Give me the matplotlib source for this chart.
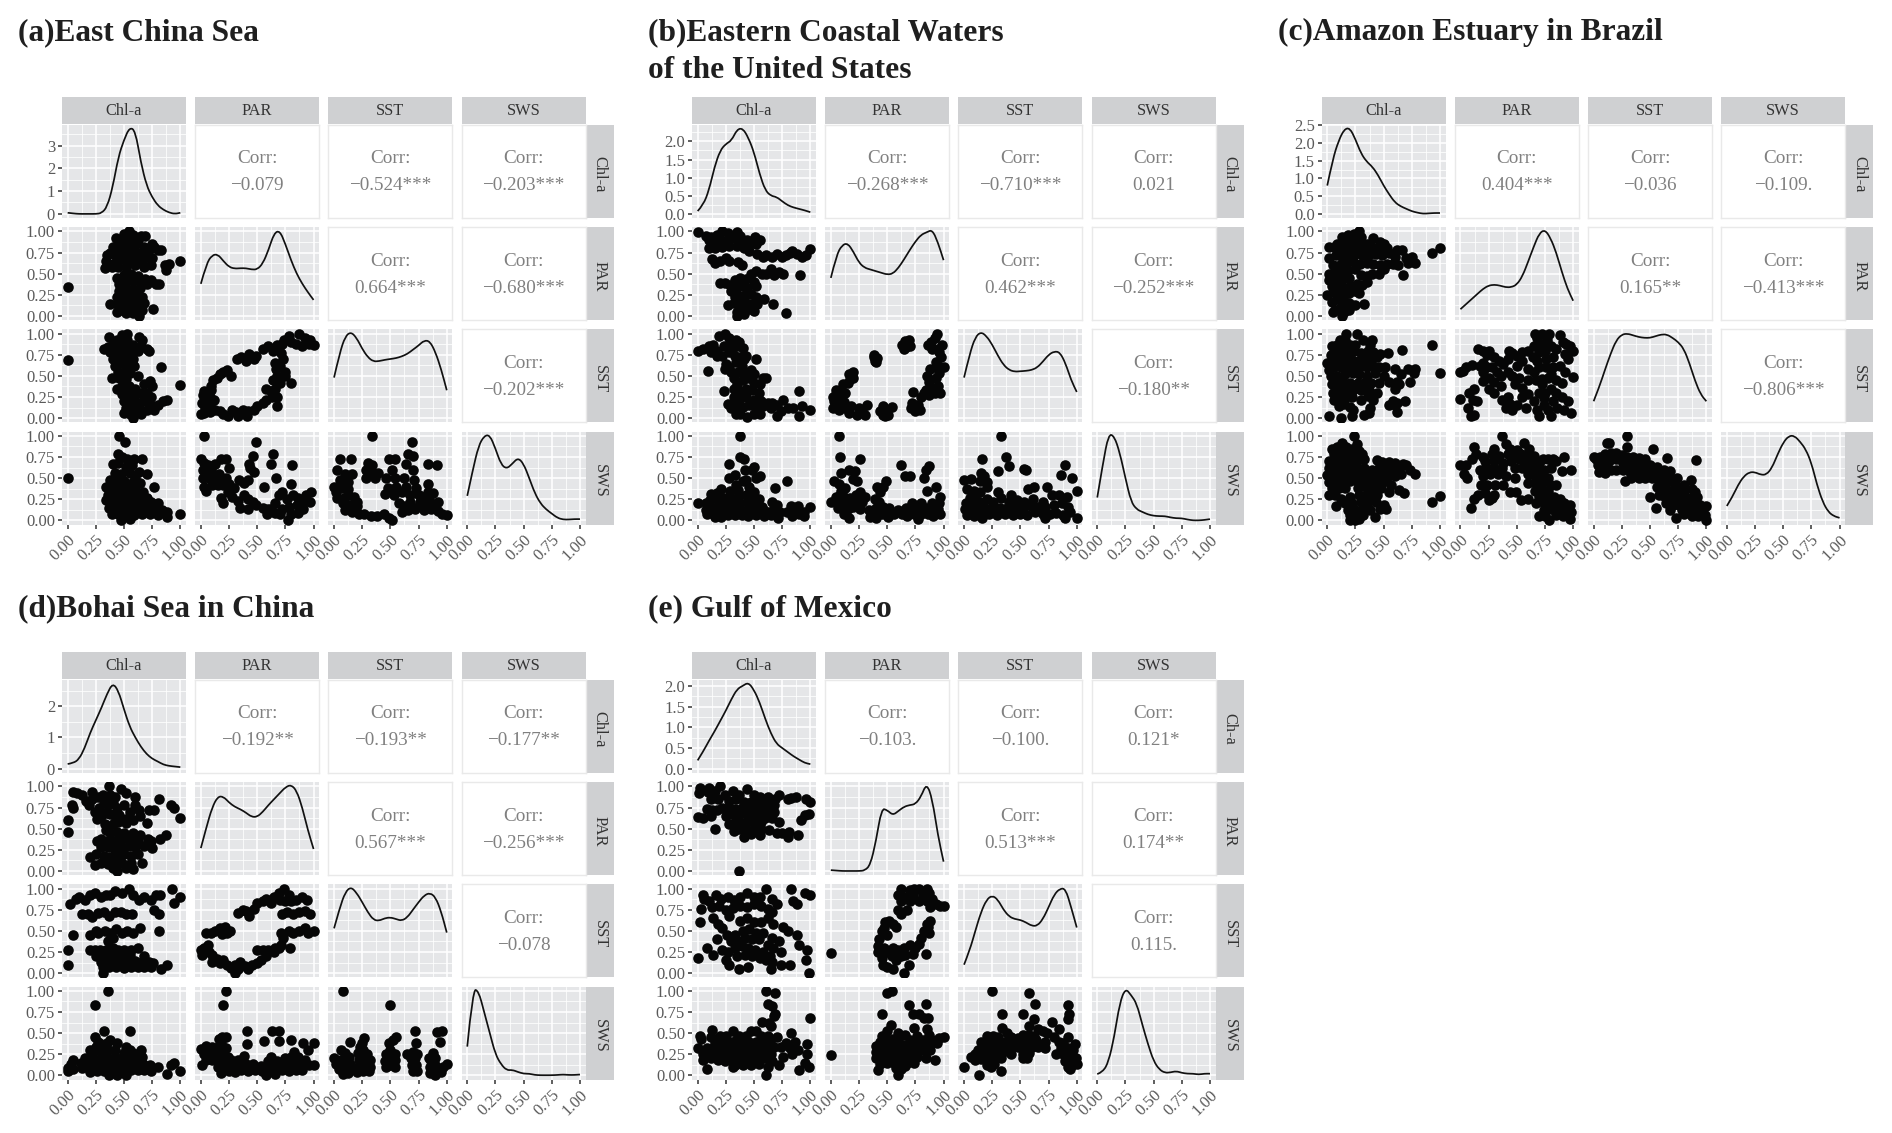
import numpy as np
import matplotlib
matplotlib.use('Agg')
import matplotlib.pyplot as plt
from matplotlib.path import Path
from matplotlib.patches import PathPatch
from matplotlib.transforms import ScaledTranslation

plt.rcParams['font.family'] = ['Liberation Serif', 'DejaVu Serif']

W, H = 1892, 1133
names = ['Chl-a', 'PAR', 'SST', 'SWS']
grid_x = [0, .05, .1, .15, .2, .25, .3, .35, .4, .45, .5, .55, .6, .65, .7, .75, .8, .85, .9, .95, 1]
unit_ticks = [0, .25, .5, .75, 1]
unit_labels = ['0.00', '0.25', '0.50', '0.75', '1.00']

# density curves, read at grid_x
a_dens = [[.05,.02,0,0,0,0,.03,.3,1.18,2.5,3.25,3.8,3.65,2.25,1.25,.73,.37,.18,.06,0,.05],
          [.38,.62,.72,.73,.65,.58,.56,.565,.565,.55,.55,.62,.78,.98,1.01,.85,.66,.5,.38,.28,.19],
          [.48,.77,.97,1.02,.95,.82,.72,.67,.675,.69,.7,.71,.73,.76,.81,.86,.92,.91,.78,.58,.33],
          [.29,.6,.88,1,1.01,.85,.66,.61,.67,.74,.67,.5,.32,.2,.13,.08,.03,.01,.01,.015,.015]]
b_dens = [[.08,.25,.65,1.3,1.75,1.93,2.02,2.33,2.36,2.1,1.7,1.1,.65,.5,.47,.35,.24,.18,.14,.1,.05],
          [.45,.72,.84,.86,.76,.63,.57,.55,.53,.51,.49,.5,.57,.67,.78,.88,.96,.99,1.02,.87,.66],
          [.48,.76,.96,1.02,.97,.87,.74,.63,.57,.55,.555,.56,.57,.6,.67,.75,.79,.78,.65,.45,.31],
          [.27,.67,1.02,1,.8,.5,.22,.13,.1,.07,.055,.05,.05,.035,.025,.025,.01,0,0,.005,.015]]
c_dens = [[.8,1.55,2.05,2.38,2.42,2.1,1.7,1.47,1.33,1.1,.8,.55,.33,.22,.15,.08,.04,.01,.02,.03,.03],
          [.08,.14,.2,.26,.32,.36,.37,.36,.34,.34,.37,.47,.64,.82,.98,1.02,.92,.75,.52,.32,.18],
          [.2,.37,.57,.76,.92,.99,1,.98,.96,.95,.95,.97,.99,.99,.95,.9,.82,.65,.44,.28,.2],
          [.17,.28,.42,.52,.57,.57,.54,.54,.62,.78,.92,1,1,.93,.84,.68,.42,.22,.1,.05,.03]]
d_dens = [[.15,.18,.3,.65,1.15,1.55,1.95,2.4,2.74,2.5,1.9,1.35,1,.7,.47,.32,.23,.13,.09,.07,.05],
          [.27,.52,.75,.88,.88,.81,.76,.73,.69,.64,.64,.7,.78,.85,.92,.99,1.02,.95,.75,.48,.26],
          [.53,.77,.96,1.02,.95,.84,.72,.63,.62,.65,.66,.64,.62,.66,.75,.84,.92,.95,.9,.73,.48],
          [.34,1.02,1,.75,.5,.25,.13,.06,.065,.04,.02,.02,.005,.002,.002,.002,.005,.01,.005,.005,.01]]
e_dens = [[.2,.42,.67,.9,1.15,1.4,1.68,1.92,2.0,2.08,1.9,1.6,1.2,.85,.6,.5,.4,.3,.22,.14,.11],
          [.01,.005,0,0,0,0,.005,.07,.35,.74,.72,.66,.71,.76,.78,.79,.88,1.04,.85,.42,.11],
          [.1,.27,.5,.72,.87,.92,.87,.75,.67,.64,.63,.6,.56,.56,.64,.78,.93,1,1,.78,.54],
          [.015,.04,.16,.45,.86,1.03,.95,.85,.6,.37,.17,.07,.03,.035,.05,.03,.02,.02,.01,.02,.02]]

# correlation labels, upper triangle
a_corr = ['\u22120.079', '\u22120.524***', '\u22120.203***', '0.664***', '\u22120.680***', '\u22120.202***']
b_corr = ['\u22120.268***', '\u22120.710***', '0.021', '0.462***', '\u22120.252***', '\u22120.180**']
c_corr = ['0.404***', '\u22120.036', '\u22120.109.', '0.165**', '\u22120.413***', '\u22120.806***']
d_corr = ['\u22120.192**', '\u22120.193**', '\u22120.177**', '0.567***', '\u22120.256***', '\u22120.078']
e_corr = ['\u22120.103.', '\u22120.100.', '0.121*', '0.513***', '0.174**', '0.115.']

# scatter points (x, y), lower triangle
a1 = [(0,.34),(1,.65),(.54,1),(.5,.97),(.58,.96),(.65,.95),(.69,.95),(.43,.92),(.48,.9),(.55,.9),(.62,.9),(.75,.85),(.77,.82),(.8,.78),(.83,.78),(.4,.82),(.45,.82),(.52,.82),(.6,.84),(.68,.82),(.72,.78),(.35,.72),(.38,.75),(.42,.72),(.47,.75),(.52,.74),(.58,.76),(.64,.75),(.7,.7),(.75,.68),(.34,.65),(.37,.62),(.42,.63),(.48,.67),(.55,.66),(.6,.68),(.66,.65),(.74,.6),(.9,.62),(.86,.6),(.87,.54),(.33,.57),(.39,.58),(.45,.58),(.52,.58),(.6,.6),(.68,.58),(.44,.45),(.5,.48),(.56,.5),(.62,.47),(.69,.44),(.74,.42),(.78,.38),(.81,.38),(.46,.38),(.52,.4),(.58,.42),(.64,.4),(.7,.38),(.46,.3),(.52,.33),(.58,.32),(.64,.33),(.44,.22),(.5,.25),(.56,.24),(.62,.25),(.66,.22),(.38,.14),(.44,.14),(.5,.17),(.56,.15),(.62,.17),(.68,.15),(.76,.08),(.44,.05),(.48,.07),(.54,.08),(.6,.09),(.66,.07),(.63,0),(.58,.03),(.52,.03)]
a2 = [(0,.69),(1,.39),(.37,.96),(.48,.98),(.53,1),(.44,.93),(.53,.93),(.63,.96),(.66,.92),(.32,.82),(.36,.84),(.4,.88),(.47,.86),(.52,.87),(.58,.86),(.65,.85),(.7,.82),(.72,.79),(.38,.78),(.43,.8),(.5,.8),(.56,.78),(.62,.79),(.4,.7),(.45,.72),(.52,.72),(.58,.7),(.42,.62),(.47,.65),(.53,.64),(.59,.62),(.83,.6),(.39,.48),(.45,.55),(.5,.55),(.55,.53),(.62,.5),(.46,.47),(.52,.46),(.68,.4),(.73,.44),(.75,.38),(.44,.34),(.48,.38),(.54,.38),(.6,.35),(.48,.28),(.53,.3),(.59,.27),(.65,.3),(.7,.3),(.74,.25),(.5,.2),(.55,.22),(.6,.2),(.67,.2),(.73,.17),(.8,.15),(.85,.2),(.88,.22),(.52,.12),(.57,.14),(.63,.12),(.7,.1),(.77,.1),(.5,.06),(.55,.05),(.6,.07),(.65,.05),(.58,0)]
a3 = [(0,.05),(.02,.27),(.03,.32),(.06,.3),(.09,.33),(.01,.18),(.05,.2),(.08,.25),(.04,.12),(.08,.14),(.03,.06),(.08,.07),(.13,.1),(.17,.08),(.2,.05),(.24,.03),(.28,.1),(.31,.07),(.33,.03),(.37,.1),(.41,.03),(.42,.08),(.47,.1),(.5,.14),(.55,.18),(.58,.22),(.63,.25),(.68,.25),(.62,.32),(.66,.35),(.7,.42),(.75,.5),(.8,.42),(.68,.14),(.58,.35),(.64,.45),(.68,.5),(.67,.58),(.7,.62),(.75,.55),(.66,.65),(.73,.7),(.71,.77),(.12,.22),(.09,.38),(.11,.45),(.14,.48),(.17,.52),(.2,.55),(.23,.57),(.27,.5),(.32,.7),(.36,.72),(.4,.68),(.43,.76),(.47,.7),(.49,.73),(.55,.82),(.6,.85),(.64,.8),(.68,.87),(.72,.88),(.74,.93),(.78,.97),(.8,.9),(.84,.88),(.87,1),(.92,.95),(.9,.85),(.96,.88),(1,.86),(.97,.92)]
a4 = [(0,.5),(1,.08),(.46,1),(.51,.93),(.45,.78),(.48,.75),(.53,.72),(.59,.72),(.66,.72),(.4,.67),(.45,.68),(.52,.63),(.57,.65),(.63,.57),(.7,.55),(.42,.56),(.47,.55),(.55,.56),(.6,.5),(.38,.48),(.44,.48),(.5,.46),(.57,.44),(.64,.44),(.34,.39),(.4,.4),(.46,.38),(.53,.38),(.6,.36),(.67,.33),(.77,.39),(.36,.3),(.42,.31),(.49,.3),(.56,.3),(.63,.28),(.7,.26),(.34,.24),(.39,.22),(.45,.22),(.52,.22),(.59,.22),(.66,.2),(.74,.22),(.8,.2),(.37,.15),(.42,.14),(.49,.14),(.56,.14),(.63,.13),(.7,.13),(.78,.14),(.84,.12),(.88,.1),(.39,.08),(.45,.07),(.52,.07),(.59,.06),(.66,.07),(.73,.07),(.8,.06),(.88,.04),(.47,.01),(.55,.02)]
a5 = [(.03,1),(.49,.93),(0,.72),(.03,.68),(.06,.65),(.1,.64),(.13,.67),(.18,.72),(.22,.73),(.02,.6),(.06,.58),(.11,.55),(.16,.55),(.25,.62),(.02,.5),(.07,.5),(.12,.48),(.17,.48),(.22,.5),(.03,.4),(.05,.35),(.1,.42),(.15,.42),(.2,.42),(.25,.43),(.18,.27),(.2,.2),(.24,.33),(.29,.38),(.34,.48),(.38,.44),(.42,.48),(.44,.62),(.46,.76),(.43,.67),(.64,.78),(.62,.67),(.81,.66),(.47,.57),(.67,.5),(.56,.39),(.8,.43),(.28,.28),(.33,.23),(.38,.3),(.42,.25),(.46,.22),(.35,.15),(.42,.14),(.49,.18),(.55,.15),(.59,.08),(.62,.14),(.66,.2),(.69,.3),(.72,.34),(.76,.25),(.82,.3),(.86,.27),(.93,.3),(.98,.33),(.97,.22),(.9,.2),(.85,.18),(.78,.16),(.72,.14),(.66,.09),(.6,.13),(.7,.07),(.77,0),(.8,.07),(.86,.09),(.91,.13)]
a6 = [(.34,1),(.69,.93),(.05,.72),(.15,.72),(.3,.68),(.34,.65),(.66,.78),(.7,.76),(.83,.67),(.91,.66),(.49,.72),(.54,.73),(.03,.6),(.1,.55),(.16,.55),(.28,.6),(.33,.58),(.39,.56),(.51,.6),(.64,.67),(.7,.6),(.0,.4),(.05,.48),(.12,.45),(.28,.5),(.36,.5),(.46,.5),(.54,.5),(.62,.5),(.71,.48),(.02,.33),(.07,.38),(.12,.37),(.48,.38),(.55,.4),(.64,.4),(.73,.38),(.83,.43),(.03,.27),(.09,.27),(.2,.22),(.45,.31),(.53,.3),(.67,.3),(.75,.3),(.83,.33),(.88,.32),(.08,.2),(.13,.18),(.2,.17),(.67,.22),(.76,.22),(.84,.25),(.92,.22),(.1,.12),(.16,.1),(.27,.07),(.33,.05),(.38,.05),(.44,.08),(.49,.03),(.51,.01),(.6,.1),(.66,.12),(.72,.13),(.8,.12),(.86,.13),(.92,.11),(.96,.08),(1,.06),(.22,.08),(.12,.3),(.18,.28),(.58,.2),(.62,.17),(.75,.17),(.82,.2),(.88,.17),(.6,.34),(.8,.28)]

b1 = [(0,.99),(.07,.95),(.12,.93),(.17,.96),(.22,1),(.27,.98),(.35,.99),(.38,.95),(.44,.9),(.51,.93),(.55,.9),(.1,.9),(.16,.88),(.21,.9),(.27,.9),(.33,.92),(.4,.88),(.47,.86),(.52,.85),(.1,.8),(.15,.8),(.22,.82),(.28,.83),(.35,.83),(.41,.8),(.46,.77),(.53,.73),(.58,.7),(.61,.72),(.66,.7),(.7,.73),(.75,.7),(.78,.72),(.82,.75),(.84,.77),(.88,.73),(.93,.7),(.96,.72),(1,.79),(.13,.67),(.15,.63),(.2,.65),(.25,.68),(.28,.65),(.36,.64),(.39,.6),(.65,.55),(.68,.48),(.72,.52),(.76,.5),(.91,.48),(.47,.5),(.52,.53),(.57,.5),(.61,.5),(.2,.39),(.24,.39),(.29,.37),(.33,.42),(.38,.45),(.43,.44),(.5,.4),(.52,.36),(.3,.3),(.34,.32),(.39,.35),(.44,.33),(.33,.22),(.37,.24),(.42,.25),(.47,.26),(.52,.22),(.59,.2),(.27,.13),(.32,.15),(.37,.14),(.42,.17),(.47,.14),(.53,.14),(.67,.14),(.78,.04),(.35,.05),(.4,.07),(.46,.08),(.35,0),(.41,.02),(.5,.06)]
b2 = [(.0,.8),(.05,.82),(.1,.85),(.14,.87),(.19,.97),(.24,1),(.28,.95),(.34,.93),(.37,.9),(.12,.78),(.17,.8),(.23,.85),(.28,.87),(.32,.84),(.37,.85),(.4,.83),(.17,.74),(.22,.73),(.28,.78),(.33,.74),(.38,.72),(.43,.73),(.25,.64),(.28,.6),(.34,.66),(.39,.62),(.41,.7),(.52,.7),(.09,.56),(.24,.58),(.3,.55),(.36,.55),(.42,.54),(.47,.57),(.5,.52),(.58,.48),(.61,.47),(.23,.32),(.32,.48),(.35,.4),(.4,.45),(.46,.47),(.5,.42),(.55,.4),(.32,.35),(.37,.32),(.43,.35),(.48,.33),(.54,.3),(.27,.17),(.32,.25),(.37,.22),(.43,.25),(.5,.22),(.56,.2),(.62,.18),(.66,.18),(.7,.15),(.3,.12),(.34,.15),(.4,.13),(.46,.15),(.52,.12),(.58,.14),(.65,.12),(.7,.03),(.74,.08),(.76,.22),(.8,.12),(.85,.12),(.9,.32),(.9,.02),(.93,.14),(1,.1),(.34,.05),(.38,.05),(.44,.01),(.5,.05),(.55,.05)]
b3 = [(.02,.12),(.03,.2),(.05,.28),(.02,.25),(.08,.17),(.12,.19),(.07,.1),(.13,.12),(.18,.14),(.16,.06),(.23,.04),(.25,.12),(.28,.08),(.3,.04),(.32,.15),(.38,.72),(.39,.68),(.4,.66),(.38,.75),(.41,.71),(.46,.14),(.47,.08),(.5,.1),(.51,.04),(.48,.02),(.44,.08),(.54,.13),(.46,.04),(.63,.86),(.65,.82),(.66,.91),(.69,.93),(.7,.85),(.67,.84),(.72,.18),(.74,.15),(.71,.12),(.77,.15),(.79,.1),(.75,.08),(.73,.31),(.8,.25),(.83,.3),(.87,.27),(.92,.3),(.84,.33),(.9,.36),(.95,.38),(.97,.3),(.87,.43),(.93,.47),(.85,.5),(.88,.58),(.94,.6),(.97,.6),(1,.6),(.96,.53),(.93,.67),(.98,.72),(.96,.78),(.9,.82),(.86,.87),(.89,.9),(.92,.95),(.94,1),(.99,.87),(.95,.82),(.2,.55),(.16,.52),(.17,.46),(.2,.48),(.15,.42),(.11,.4),(.08,.33),(.05,.33),(.13,.3),(.09,.26)]
b4 = [(0,.2),(.38,1),(.38,.75),(.41,.73),(.28,.67),(.33,.54),(.28,.5),(.42,.6),(.48,.6),(.5,.63),(.52,.5),(.55,.52),(.69,.38),(.79,.46),(.34,.42),(.4,.46),(.43,.48),(.46,.4),(.12,.31),(.17,.32),(.21,.37),(.29,.35),(.36,.36),(.5,.33),(.07,.2),(.11,.24),(.17,.25),(.23,.27),(.3,.27),(.36,.28),(.43,.3),(.5,.26),(.54,.25),(.07,.12),(.12,.15),(.18,.17),(.24,.2),(.3,.2),(.37,.2),(.44,.22),(.5,.19),(.57,.16),(.66,.22),(.7,.18),(.08,.07),(.13,.09),(.2,.11),(.26,.13),(.32,.13),(.38,.14),(.45,.14),(.52,.12),(.6,.11),(.67,.12),(.73,.1),(.79,.1),(.83,.17),(.87,.13),(.89,.17),(.94,.1),(1,.16),(.15,.04),(.21,.04),(.27,.06),(.33,.06),(.39,.06),(.45,.05),(.52,.06),(.59,.05),(.65,.06),(.71,.03),(.84,.05),(.9,.07),(.94,.05)]
b5 = [(.07,1),(.08,.75),(.26,.73),(.62,.66),(.66,.53),(.7,.53),(.87,.64),(.84,.6),(.09,.56),(.16,.6),(.21,.58),(.2,.49),(.23,.47),(.03,.46),(.07,.43),(.41,.4),(.46,.4),(.49,.46),(.83,.5),(.09,.35),(.13,.38),(.85,.35),(.93,.39),(.39,.25),(.44,.33),(.05,.28),(.08,.3),(.12,.28),(.17,.27),(.22,.3),(.26,.33),(.3,.28),(.97,.28),(.0,.22),(.04,.22),(.08,.22),(.12,.22),(.17,.2),(.22,.2),(.28,.22),(.43,.22),(.72,.2),(.8,.2),(.9,.2),(.96,.2),(.06,.15),(.1,.15),(.15,.14),(.2,.16),(.26,.13),(.34,.12),(.4,.15),(.46,.16),(.52,.15),(.6,.12),(.67,.15),(.73,.14),(.78,.15),(.84,.15),(.89,.14),(.95,.14),(.12,.08),(.16,.03),(.35,.04),(.39,.08),(.45,.08),(.51,.04),(.56,.08),(.63,.07),(.68,.05),(.74,.08),(.8,.08),(.86,.08),(.91,.05),(.97,.07),(.4,.03),(.77,.02)]
b6 = [(.33,1),(.37,.75),(.16,.73),(.4,.64),(.53,.61),(.55,.6),(.3,.58),(.15,.56),(.18,.53),(.9,.66),(.86,.54),(.96,.5),(.0,.48),(.06,.49),(.2,.45),(.2,.4),(.14,.46),(.62,.39),(.74,.39),(.57,.37),(.3,.34),(1,.35),(.03,.37),(.09,.35),(.14,.33),(.1,.27),(.42,.3),(.05,.27),(.02,.2),(.07,.2),(.14,.22),(.2,.25),(.26,.22),(.33,.26),(.4,.22),(.47,.24),(.53,.22),(.61,.25),(.7,.22),(.78,.3),(.84,.3),(.91,.28),(.01,.13),(.06,.13),(.12,.13),(.18,.16),(.25,.15),(.32,.15),(.38,.15),(.45,.16),(.52,.15),(.59,.17),(.66,.16),(.72,.16),(.8,.18),(.87,.2),(.92,.16),(.03,.06),(.09,.05),(.15,.06),(.22,.07),(.29,.06),(.36,.08),(.43,.06),(.5,.08),(.56,.06),(.63,.1),(.7,.07),(.76,.08),(.82,.09),(.88,.06),(.94,.1),(.9,.03),(1,.03),(.16,.03),(.72,.03)]

c1 = [(1,.8),(.93,.75),(.28,1),(.24,.97),(.18,.96),(.13,.93),(.2,.93),(.3,.93),(.09,.85),(.15,.85),(.22,.87),(.28,.88),(.35,.85),(.41,.92),(.47,.88),(.5,.85),(.02,.82),(.06,.81),(.11,.78),(.16,.78),(.22,.8),(.28,.8),(.34,.78),(.4,.82),(.46,.8),(.53,.8),(.02,.68),(.08,.72),(.13,.7),(.19,.72),(.25,.73),(.31,.72),(.37,.72),(.43,.73),(.49,.72),(.55,.74),(.6,.7),(.62,.78),(.66,.78),(.7,.68),(.75,.7),(.78,.63),(.72,.63),(.05,.6),(.11,.6),(.17,.62),(.23,.65),(.29,.62),(.35,.63),(.41,.62),(.47,.6),(.53,.62),(.58,.62),(.63,.6),(.02,.5),(.07,.53),(.13,.52),(.18,.54),(.25,.55),(.3,.48),(.35,.47),(.4,.5),(.46,.5),(.5,.55),(.67,.49),(.02,.42),(.08,.45),(.13,.42),(.19,.45),(.26,.38),(.31,.37),(.35,.4),(.04,.36),(.09,.35),(.14,.33),(.2,.36),(.25,.3),(.28,.27),(0,.25),(.05,.28),(.1,.28),(.15,.25),(.19,.27),(.04,.17),(.09,.2),(.14,.18),(.19,.15),(.25,.13),(.33,.14),(.07,.07),(.05,.05),(.12,.11),(.19,.07),(.13,0),(.15,.05)]
c2 = [(.93,.87),(1,.54),(.17,1),(.26,1),(.11,.93),(.16,.92),(.32,.92),(.4,.92),(.04,.85),(.09,.87),(.14,.85),(.2,.87),(.25,.87),(.38,.87),(.03,.75),(.08,.78),(.13,.78),(.19,.78),(.24,.79),(.3,.77),(.36,.8),(.41,.78),(.47,.76),(.54,.77),(.66,.81),(0,.65),(.05,.68),(.1,.7),(.15,.7),(.21,.7),(.27,.68),(.32,.7),(.38,.7),(.44,.72),(.02,.57),(.06,.6),(.12,.6),(.18,.62),(.24,.62),(.3,.62),(.35,.6),(.41,.62),(.46,.6),(.51,.6),(.6,.58),(.65,.52),(.72,.58),(.78,.58),(.77,.53),(.03,.5),(.09,.5),(.16,.52),(.23,.53),(.28,.52),(.35,.5),(.42,.53),(.5,.5),(.04,.41),(.09,.42),(.14,.43),(.2,.42),(.27,.42),(.33,.42),(.39,.42),(.46,.42),(.55,.43),(.62,.43),(.73,.43),(.05,.3),(.1,.34),(.17,.33),(.23,.33),(.3,.33),(.37,.33),(.44,.3),(.6,.35),(.64,.4),(.06,.22),(.11,.25),(.17,.25),(.22,.25),(.3,.22),(.36,.26),(.41,.22),(.55,.15),(.6,.15),(.62,.18),(.58,.2),(.69,.2),(.1,.14),(.15,.17),(.2,.13),(.23,.1),(.33,.04),(.38,.12),(.37,.06),(.62,.07),(.02,.02),(.12,0),(.22,.02)]
c3 = [(0,.55),(.02,.56),(.05,.6),(.1,.63),(.17,.62),(.16,.82),(.2,.8),(.24,.75),(.25,.8),(.3,.72),(.34,.68),(.43,.8),(.46,.77),(.5,.74),(.55,.78),(.6,.8),(.65,.85),(.68,.95),(.66,1),(.72,1),(.79,1),(.77,.92),(.72,.88),(.88,.98),(.91,.9),(.94,.88),(.97,.85),(1,.79),(.93,.76),(.85,.82),(.8,.85),(.75,.8),(.7,.78),(.64,.72),(.55,.68),(.5,.62),(.42,.7),(.38,.64),(.2,.65),(.24,.6),(.28,.6),(.32,.55),(.2,.55),(.2,.44),(.25,.48),(.3,.43),(.36,.5),(.42,.55),(.46,.5),(.52,.48),(.6,.58),(.65,.55),(.7,.6),(.76,.6),(.82,.6),(.88,.62),(.95,.7),(1,.49),(.93,.55),(.85,.45),(.9,.42),(.78,.48),(.72,.46),(.67,.45),(.6,.45),(.55,.36),(.48,.4),(.36,.38),(.3,.3),(.25,.35),(.12,.35),(.08,.3),(0,.23),(.11,.22),(.15,.2),(.07,.12),(.09,.02),(.12,.04),(.37,.22),(.42,.25),(.44,.17),(.4,.12),(.46,.1),(.5,.15),(.55,.25),(.6,.28),(.58,.12),(.65,.2),(.7,.3),(.75,.3),(.8,.35),(.85,.3),(.9,.25),(.95,.2),(.98,.06),(.82,.2),(.74,.15),(.68,.1),(.7,.02),(.8,.03),(.86,.12),(.78,.1),(.92,.1),(.72,.4),(.8,.52),(.68,.68),(.76,.7),(.82,.72),(.74,.24)]
c4 = [(1,.29),(.93,.22),(.24,1),(.26,.9),(.13,.92),(.09,.87),(.04,.85),(.17,.87),(.22,.85),(.28,.82),(.31,.78),(.06,.78),(.12,.78),(.18,.78),(.24,.77),(.33,.72),(.02,.7),(.07,.7),(.13,.7),(.19,.7),(.26,.7),(.44,.71),(.49,.69),(.55,.69),(.6,.68),(.67,.67),(.7,.65),(.02,.62),(.08,.62),(.14,.63),(.2,.62),(.26,.62),(.33,.62),(.4,.6),(.46,.62),(.52,.62),(.58,.62),(.64,.6),(.73,.6),(.78,.55),(0,.54),(.05,.53),(.11,.55),(.17,.55),(.23,.54),(.3,.54),(.36,.52),(.42,.53),(.48,.53),(.54,.53),(.6,.52),(.65,.55),(.02,.45),(.07,.45),(.13,.46),(.2,.46),(.26,.46),(.33,.46),(.39,.45),(.45,.45),(.52,.46),(.57,.42),(.04,.38),(.1,.38),(.16,.38),(.27,.38),(.35,.38),(.42,.38),(.48,.38),(.55,.33),(.64,.36),(.68,.32),(.02,.3),(.07,.3),(.12,.25),(.2,.28),(.28,.3),(.34,.3),(.4,.3),(.44,.3),(.08,.17),(.16,.2),(.22,.2),(.3,.22),(.36,.22),(.43,.22),(.5,.18),(.47,.14),(.52,.13),(.18,.12),(.24,.13),(.32,.13),(.38,.12),(.2,.06),(.26,.07),(.32,.06),(.42,.04),(.2,.01),(.25,0),(.28,.02)]
c5 = [(.37,1),(.4,.9),(.56,.91),(.61,.85),(.12,.87),(.3,.84),(.44,.85),(.5,.83),(.14,.78),(.2,.75),(.28,.78),(.34,.76),(.42,.78),(.47,.78),(.54,.78),(.6,.77),(.65,.76),(.73,.72),(.78,.73),(.82,.72),(.92,.75),(0,.66),(.05,.65),(.1,.72),(.22,.7),(.3,.7),(.38,.68),(.45,.7),(.52,.72),(.58,.7),(.62,.68),(.7,.68),(.85,.7),(.03,.55),(.06,.5),(.17,.6),(.23,.63),(.3,.62),(.37,.62),(.48,.62),(.55,.62),(.62,.62),(.68,.6),(.74,.6),(.8,.62),(.9,.58),(.98,.6),(.2,.52),(.26,.55),(.33,.55),(.4,.52),(.48,.5),(.6,.55),(.66,.52),(.72,.52),(.78,.5),(.18,.42),(.24,.42),(.31,.42),(.38,.42),(.6,.44),(.66,.44),(.72,.44),(.8,.42),(.85,.42),(.16,.3),(.22,.32),(.3,.3),(.44,.33),(.49,.33),(.66,.35),(.72,.37),(.78,.35),(.12,.25),(.09,.15),(.25,.24),(.28,.27),(.54,.24),(.6,.25),(.7,.28),(.76,.28),(.83,.28),(.88,.25),(.67,.2),(.74,.2),(.8,.2),(.86,.18),(.92,.2),(.97,.18),(.74,.12),(.8,.13),(.87,.12),(.93,.12),(.98,.1),(.7,.05),(.75,.05),(.79,0),(.85,.06),(.91,.05),(.97,.02)]
c6 = [(.3,1),(.3,.87),(.12,.91),(.14,.92),(.91,.71),(.53,.85),(.65,.74),(0,.75),(.02,.72),(.06,.75),(.1,.78),(.15,.8),(.2,.8),(.25,.77),(.3,.75),(.35,.75),(.4,.74),(.46,.73),(.04,.65),(.09,.67),(.14,.7),(.2,.72),(.26,.68),(.32,.67),(.38,.66),(.44,.66),(.5,.66),(.56,.63),(.62,.6),(.68,.58),(.05,.57),(.1,.56),(.15,.6),(.2,.6),(.26,.6),(.32,.57),(.38,.58),(.44,.58),(.5,.58),(.56,.57),(.62,.53),(.68,.5),(.74,.5),(.28,.46),(.33,.5),(.4,.5),(.46,.5),(.52,.5),(.58,.47),(.65,.45),(.72,.42),(.8,.42),(.86,.48),(.5,.28),(.56,.4),(.62,.38),(.68,.35),(.74,.35),(.8,.35),(.87,.37),(.9,.33),(.55,.15),(.58,.3),(.63,.28),(.69,.27),(.75,.27),(.81,.28),(.86,.27),(.92,.28),(.64,.2),(.7,.18),(.76,.18),(.82,.2),(.88,.2),(.94,.18),(1,.17),(.68,.12),(.73,.03),(.78,.12),(.84,.13),(.9,.1),(.96,.13),(.8,.07),(.87,.05),(.93,.05),(.99,.06),(1,0)]

d1 = [(0,.6),(0,.46),(.04,.78),(.05,.75),(.05,.93),(.08,.92),(.13,.9),(.16,.83),(.19,.78),(.22,.85),(.22,.93),(.27,.88),(.31,.9),(.34,.86),(.37,1),(.38,.9),(.42,.88),(.47,.97),(.52,.92),(.6,.87),(.24,.7),(.28,.75),(.32,.8),(.36,.78),(.4,.8),(.44,.75),(.5,.78),(.55,.7),(.6,.78),(.63,.72),(.72,.72),(.77,.72),(.81,.85),(.92,.78),(.94,.75),(1,.63),(.26,.62),(.3,.65),(.34,.68),(.38,.67),(.42,.65),(.46,.66),(.52,.62),(.58,.6),(.64,.65),(.7,.57),(.33,.55),(.4,.56),(.45,.58),(.52,.57),(.34,.48),(.38,.45),(.44,.46),(.5,.45),(.58,.45),(.64,.42),(.71,.38),(.74,.35),(.82,.38),(.87,.43),(.26,.35),(.3,.38),(.36,.36),(.42,.36),(.48,.38),(.55,.37),(.62,.35),(.3,.28),(.36,.28),(.42,.25),(.48,.28),(.54,.3),(.6,.28),(.68,.3),(.75,.27),(.2,.17),(.25,.2),(.32,.18),(.38,.16),(.44,.18),(.5,.2),(.56,.18),(.62,.2),(.24,.07),(.3,.1),(.36,.08),(.42,.1),(.48,.09),(.56,.1),(.66,.09),(.4,.03),(.44,0),(.52,.03),(.58,.02)]
d2 = [(0,.27),(0,.1),(.05,.45),(.02,.82),(.07,.88),(.1,.9),(.15,.87),(.2,.93),(.24,.95),(.3,.9),(.34,.92),(.38,.93),(.42,.97),(.48,.95),(.54,1),(.58,.92),(.63,.87),(.68,.9),(.74,.86),(.78,.92),(.82,.92),(.93,1),(.94,.83),(1,.9),(.77,.75),(.81,.7),(.81,.5),(.13,.7),(.18,.7),(.22,.66),(.27,.71),(.32,.72),(.37,.68),(.42,.72),(.47,.72),(.52,.7),(.57,.7),(.25,.5),(.2,.45),(.27,.47),(.33,.5),(.38,.48),(.43,.52),(.48,.48),(.53,.5),(.58,.47),(.64,.53),(.36,.38),(.4,.42),(.2,.28),(.24,.28),(.29,.28),(.34,.27),(.4,.3),(.45,.27),(.5,.27),(.56,.27),(.62,.3),(.25,.2),(.3,.2),(.36,.22),(.42,.2),(.48,.2),(.55,.22),(.68,.2),(.3,.13),(.35,.13),(.41,.12),(.47,.13),(.53,.12),(.6,.14),(.66,.13),(.72,.13),(.76,.12),(.31,.07),(.37,.07),(.43,.07),(.5,.06),(.56,.07),(.62,.07),(.68,.07),(.74,.07),(.83,.05),(.88,.1),(.31,0)]
d3 = [(0,.28),(.01,.22),(.03,.3),(.06,.33),(.05,.48),(.07,.25),(.09,.47),(.13,.5),(.17,.53),(.21,.55),(.19,.46),(.23,.48),(.26,.5),(.1,.22),(.1,.13),(.14,.17),(.17,.12),(.2,.15),(.23,.1),(.27,.06),(.3,.1),(.33,.05),(.3,0),(.35,.13),(.39,.08),(.42,.05),(.45,.1),(.5,.12),(.53,.15),(.5,.27),(.55,.28),(.58,.2),(.6,.28),(.65,.25),(.69,.3),(.71,.33),(.66,.3),(.79,.3),(.71,.48),(.73,.42),(.78,.5),(.82,.47),(.87,.5),(.92,.53),(.95,.47),(1,.5),(.72,.7),(.76,.72),(.82,.7),(.87,.72),(.92,.73),(.97,.7),(.33,.71),(.37,.75),(.4,.73),(.43,.68),(.47,.76),(.5,.83),(.55,.85),(.58,.88),(.62,.83),(.65,.9),(.69,.95),(.74,1),(.78,.92),(.84,.87),(.9,.9),(.7,.87),(.75,.85),(.8,.85),(.94,.87)]
d4 = [(0,.05),(0,.09),(.03,.13),(.05,.18),(.05,.08),(1,.05),(.36,1),(.24,.83),(.32,.53),(.55,.53),(.24,.45),(.27,.4),(.3,.37),(.35,.38),(.38,.42),(.44,.38),(.52,.33),(.55,.3),(.65,.3),(.2,.3),(.25,.33),(.15,.2),(.22,.25),(.3,.28),(.36,.3),(.42,.3),(.5,.27),(.58,.27),(.12,.15),(.18,.16),(.24,.18),(.3,.2),(.36,.2),(.42,.22),(.48,.2),(.54,.22),(.6,.2),(.66,.22),(.94,.15),(.92,.12),(.13,.09),(.19,.09),(.25,.11),(.31,.12),(.37,.13),(.43,.14),(.49,.13),(.55,.13),(.61,.13),(.67,.14),(.73,.12),(.8,.1),(.2,.04),(.26,.05),(.32,.05),(.38,.06),(.44,.07),(.5,.06),(.56,.06),(.62,.06),(.68,.06),(.74,.05),(.88,.02),(.37,0),(.52,0),(.44,.01)]
d5 = [(.22,1),(.2,.83),(.41,.53),(.41,.37),(.63,.52),(.69,.53),(.56,.41),(.69,.41),(.8,.42),(.91,.38),(1,.38),(.19,.45),(.16,.43),(.22,.45),(0,.31),(.05,.35),(.1,.33),(.15,.34),(.18,.38),(.22,.32),(.03,.25),(.08,.27),(.13,.25),(.18,.24),(.24,.22),(.38,.23),(.62,.22),(.83,.28),(.95,.3),(.01,.12),(.05,.18),(.1,.18),(.15,.18),(.2,.17),(.27,.18),(.33,.18),(.6,.17),(.68,.17),(.75,.2),(.8,.22),(.86,.22),(.92,.18),(.15,.1),(.2,.1),(.26,.12),(.33,.11),(.4,.13),(.46,.14),(.53,.11),(.6,.12),(.66,.12),(.72,.13),(.78,.13),(.84,.12),(.9,.13),(.96,.12),(1,.12),(.18,.03),(.25,.05),(.3,.04),(.36,.06),(.42,.05),(.48,.06),(.54,.05),(.6,.05),(.66,.02),(.72,.06),(.78,.05),(.84,.06),(.9,.06),(.58,0)]
d6 = [(.08,1),(.5,.83),(.14,.4),(.27,.44),(.25,.38),(.23,.33),(.55,.45),(.49,.38),(.52,.42),(.72,.53),(.73,.38),(.94,.4),(.96,.53),(.91,.51),(0,.21),(.06,.3),(.1,.27),(.13,.22),(.21,.27),(.26,.3),(.29,.25),(.46,.25),(.5,.3),(.54,.25),(.65,.25),(.7,.28),(.74,.25),(.84,.2),(.88,.27),(.02,.13),(.06,.18),(.1,.17),(.14,.14),(.22,.18),(.27,.2),(.32,.18),(.45,.17),(.5,.2),(.54,.18),(.68,.2),(.72,.2),(.86,.17),(.9,.2),(.04,.08),(.09,.08),(.13,.07),(.18,.09),(.24,.12),(.28,.12),(.32,.1),(.46,.1),(.5,.12),(.54,.1),(.69,.12),(.73,.12),(.85,.1),(.9,.12),(.97,.1),(1,.13),(.08,.02),(.12,.03),(.2,.04),(.26,.05),(.31,.05),(.7,.05),(.74,.05),(.85,.03),(.9,.01),(.95,.04),(.92,.08)]

e1 = [(.2,1),(.1,.98),(.02,.98),(.01,.92),(.09,.93),(.15,.95),(.24,.9),(.31,.95),(.37,.9),(.44,.97),(.5,.9),(.55,.88),(.62,.88),(.69,.85),(.72,.9),(.8,.85),(.83,.86),(.87,.87),(.96,.85),(1,.82),(.12,.85),(.18,.85),(.28,.83),(.34,.85),(.41,.82),(.47,.82),(.55,.82),(.62,.8),(.68,.78),(.08,.73),(.13,.72),(.17,.72),(.22,.75),(.27,.75),(.33,.73),(.39,.74),(.45,.75),(.5,.74),(.56,.74),(.62,.72),(.68,.7),(0,.64),(.05,.63),(.12,.65),(.25,.65),(.31,.67),(.37,.67),(.43,.67),(.49,.65),(.55,.67),(.6,.63),(.66,.63),(.95,.66),(.99,.67),(.92,.6),(.15,.5),(.28,.55),(.33,.58),(.38,.58),(.44,.58),(.5,.58),(.56,.58),(.72,.58),(.75,.45),(.81,.46),(.32,.47),(.37,.5),(.43,.5),(.5,.5),(.56,.5),(.63,.48),(.7,.45),(.8,.4),(.89,.43),(.41,.4),(.47,.44),(.55,.42),(.37,0)]
e2 = [(0,.18),(.08,.3),(.14,.22),(.37,.05),(.45,.07),(.65,.05),(.82,.1),(.99,0),(.96,.16),(.97,.27),(.9,.33),(.88,.45),(.02,.6),(.03,.76),(.05,.92),(.06,.88),(.1,.85),(.16,.93),(.21,.88),(.27,.9),(.32,.87),(.38,.9),(.44,.95),(.5,.9),(.55,.9),(.61,1),(.66,.88),(.7,.82),(.83,1),(.85,.85),(.88,.82),(.95,.95),(1,.93),(.13,.78),(.19,.8),(.25,.75),(.31,.77),(.38,.8),(.44,.78),(.5,.82),(.56,.8),(.62,.76),(.66,.72),(.14,.65),(.18,.58),(.22,.53),(.28,.68),(.38,.62),(.44,.65),(.5,.6),(.56,.6),(.62,.65),(.67,.58),(.76,.55),(.8,.5),(.26,.45),(.33,.45),(.4,.5),(.46,.52),(.52,.48),(.58,.48),(.66,.42),(.72,.38),(.17,.4),(.3,.38),(.36,.38),(.42,.42),(.48,.4),(.54,.4),(.62,.33),(.67,.3),(.74,.25),(.22,.28),(.27,.25),(.33,.3),(.39,.32),(.45,.3),(.51,.28),(.58,.25),(.64,.2),(.25,.15),(.28,.1),(.35,.2),(.42,.22),(.48,.2),(.55,.18),(.61,.15),(.66,.13),(.74,.1)]
e3 = [(0,.24),(.42,.32),(.43,.4),(.42,.25),(.45,.18),(.46,.1),(.5,.07),(.55,.05),(.47,.3),(.45,.5),(.47,.54),(.48,.6),(.52,.62),(.55,.58),(.58,.55),(.5,.45),(.5,.25),(.54,.2),(.58,.15),(.62,.2),(.66,.22),(.69,.1),(.65,0),(.55,.3),(.6,.28),(.65,.3),(.7,.33),(.75,.3),(.78,.35),(.73,.23),(.84,.23),(.8,.42),(.83,.5),(.87,.48),(.85,.58),(.88,.62),(.86,.55),(.68,.75),(.62,.7),(.6,.75),(.62,.85),(.6,.92),(.62,1),(.7,.98),(.74,1),(.78,1),(.85,1),(.87,.95),(.82,.93),(.9,.88),(.78,.85),(.85,.85),(.93,.82),(.97,.8),(1,.8),(.88,.78),(.73,.92),(.67,.9),(.7,.85)]
e4 = [(.61,1),(.69,.97),(.62,.85),(.66,.82),(1,.68),(.69,.73),(.68,.7),(.63,.62),(.57,.63),(.65,.58),(.02,.47),(.13,.54),(.03,.43),(.12,.45),(.31,.52),(.47,.53),(.52,.52),(.83,.5),(.2,.47),(.25,.47),(.37,.47),(.43,.47),(.56,.47),(.62,.47),(.7,.45),(.15,.38),(.22,.4),(.28,.4),(.34,.42),(.4,.4),(.46,.4),(.52,.4),(.58,.4),(.64,.4),(.78,.38),(.86,.4),(.97,.37),(0,.32),(.08,.32),(.14,.32),(.2,.33),(.26,.32),(.32,.33),(.38,.32),(.44,.33),(.5,.33),(.56,.33),(.62,.33),(.68,.33),(.74,.33),(.82,.32),(.89,.3),(.05,.25),(.1,.25),(.17,.25),(.23,.25),(.29,.25),(.35,.25),(.41,.25),(.47,.25),(.53,.25),(.59,.25),(.65,.25),(.76,.22),(.84,.25),(.97,.25),(.05,.18),(.12,.2),(.18,.18),(.24,.17),(.3,.18),(.36,.18),(.42,.18),(.48,.18),(.54,.18),(.6,.2),(.66,.17),(.72,.12),(.08,.08),(.31,.1),(.33,.12),(.4,.12),(.47,.12),(.54,.13),(.62,.1),(.61,0),(.9,.06),(.95,.15),(.99,.1)]
e5 = [(.54,1),(.5,.97),(.84,.85),(.69,.83),(.45,.73),(.73,.73),(.78,.72),(.83,.68),(.86,.68),(.53,.59),(.74,.56),(.85,.55),(.87,.48),(.45,.47),(.5,.52),(.6,.5),(.66,.48),(.76,.46),(.44,.4),(.5,.42),(.55,.43),(.6,.42),(.7,.42),(.82,.42),(.9,.42),(.96,.44),(1,.45),(.4,.35),(.46,.35),(.52,.35),(.58,.36),(.64,.36),(.7,.35),(.76,.36),(.82,.36),(.88,.37),(.94,.38),(.4,.28),(.46,.28),(.52,.28),(.58,.29),(.64,.29),(.7,.29),(.76,.29),(.82,.3),(.88,.3),(.4,.2),(.46,.22),(.52,.22),(.58,.22),(.64,.22),(.7,.22),(.76,.22),(.84,.2),(.92,.18),(.44,.14),(.5,.15),(.56,.15),(.62,.15),(.68,.15),(.74,.15),(.42,.06),(.58,.09),(.62,.08),(.66,.11),(.6,0),(0,.24)]
e6 = [(.25,1),(.58,.97),(.63,.85),(.92,.83),(.34,.73),(.52,.72),(.62,.67),(.93,.72),(.92,.67),(.58,.58),(.34,.56),(.78,.63),(.66,.55),(.7,.53),(.74,.5),(.84,.55),(.38,.5),(.52,.48),(.2,.47),(.26,.47),(.3,.45),(.42,.45),(.48,.44),(.58,.48),(.62,.46),(.8,.45),(.92,.45),(.15,.4),(.22,.4),(.28,.38),(.36,.4),(.42,.38),(.5,.4),(.56,.4),(.64,.42),(.72,.4),(.84,.4),(.88,.38),(.98,.37),(.12,.3),(.18,.32),(.24,.33),(.3,.32),(.36,.33),(.42,.32),(.48,.33),(.54,.33),(.6,.34),(.66,.34),(.72,.32),(.86,.32),(.92,.32),(.97,.3),(.06,.22),(.1,.25),(.16,.25),(.22,.25),(.28,.26),(.34,.26),(.42,.25),(.52,.25),(.58,.27),(.82,.25),(.88,.25),(.94,.25),(.99,.2),(.1,.18),(.15,.19),(.2,.19),(.27,.2),(.33,.2),(.52,.2),(.56,.2),(.9,.17),(.96,.18),(1,.14),(0,.1),(.2,.12),(.24,.1),(.27,.13),(.33,.05),(.92,.1),(.96,.12),(.94,.07),(.13,0)]

fig = plt.figure(figsize=(W / 100, H / 100), dpi=100, facecolor='white')

panel_w, panel_h = 124, 93
col_step, row_step = 133.2, 102.2
strip_h = 28
strip_w = 28


def px_axes(x, y, w, h):
    return fig.add_axes([x / W, 1 - (y + h) / H, w / W, h / H])


def strip(x, y, w, h, label, rotation=0):
    ax = px_axes(x, y, w, h)
    ax.set_facecolor('#CFD0D2')
    ax.set_xticks([])
    ax.set_yticks([])
    for s in ax.spines.values():
        s.set_visible(False)
    ax.text(.5, .47, label, transform=ax.transAxes, ha='center', va='center', rotation=rotation,
            fontsize=11.8, color='#333333')


def smooth_line(ax, xs, ys):
    # line through the read values, drawn as a quadratic curve so it has no corners
    pts = np.column_stack([xs, ys])
    verts = [pts[0]]
    codes = [Path.MOVETO]
    for i in range(1, len(pts) - 1):
        verts += [pts[i], (pts[i] + pts[i + 1]) / 2]
        codes += [Path.CURVE3, Path.CURVE3]
    verts.append(pts[-1])
    codes.append(Path.LINETO)
    ax.add_patch(PathPatch(Path(verts, codes), fill=False, edgecolor='#111111', lw=1.25))


def style_panel(ax, yticks, yminor, ylabels, left, bottom):
    ax.set_facecolor('#E5E6E8')
    for s in ax.spines.values():
        s.set_visible(False)
    ax.set_axisbelow(True)
    ax.set_xticks(unit_ticks)
    ax.set_xticks([.125, .375, .625, .875], minor=True)
    ax.set_yticks(yticks)
    ax.set_yticks(yminor, minor=True)
    ax.grid(True, which='major', color='white', lw=1.15)
    ax.grid(True, which='minor', color='white', lw=.55)
    ax.tick_params(which='minor', length=0)
    ax.tick_params(which='major', length=3, width=1.1, color='#333333', labelsize=12,
                   labelcolor='#5A5A5A', pad=2, left=left, bottom=bottom, labelleft=left, labelbottom=bottom)
    ax.set_yticklabels(ylabels)
    ax.set_xticklabels(unit_labels)
    if bottom:
        shift = ScaledTranslation(-5 / 100, 0, fig.dpi_scale_trans)
        for t in ax.get_xticklabels():
            t.set_rotation(45)
            t.set_ha('center')
            t.set_transform(t.get_transform() + shift)


def pairs(x0, y0, dens, corr, scat, dens_ticks, dens_minor, dens_labels, dens_lim, right_labels):
    for i in range(4):
        strip(x0 + i * col_step, y0 - strip_h, panel_w, strip_h - 1, names[i])
        strip(x0 + 3 * col_step + panel_w, y0 + i * row_step, strip_w, panel_h, right_labels[i], rotation=-90)
    k = 0
    m = 0
    for r in range(4):
        for c in range(4):
            ax = px_axes(x0 + c * col_step, y0 + r * row_step, panel_w, panel_h)
            ax.set_xlim(-.05, 1.05)
            if c > r:
                ax.set_xticks([])
                ax.set_yticks([])
                for s in ax.spines.values():
                    s.set_color('#E9E9E9')
                    s.set_linewidth(1)
                ax.text(.5, .635, 'Corr:', transform=ax.transAxes, ha='center', va='center',
                        fontsize=13.8, color='#808080')
                ax.text(.5, .345, corr[k], transform=ax.transAxes, ha='center', va='center',
                        fontsize=13.8, color='#808080')
                k += 1
                continue
            if c == r:
                smooth_line(ax, grid_x, dens[r])
                if r == 0:
                    ax.set_ylim(*dens_lim)
                    style_panel(ax, dens_ticks, dens_minor, dens_labels, True, False)
                else:
                    ax.set_ylim(-.05, 1.05)
                    style_panel(ax, unit_ticks, [.125, .375, .625, .875], unit_labels, False, r == 3)
            else:
                pts = np.array(scat[m])
                m += 1
                ax.scatter(pts[:, 0], pts[:, 1], s=58, color='#060606', linewidths=0)
                ax.set_ylim(-.05, 1.05)
                style_panel(ax, unit_ticks, [.125, .375, .625, .875], unit_labels, c == 0, r == 3)


pairs(62, 125, a_dens, a_corr, [a1, a2, a3, a4, a5, a6], [0, 1, 2, 3], [.5, 1.5, 2.5, 3.5],
      ['0', '1', '2', '3'], (-.18, 3.9), names)
pairs(692, 125, b_dens, b_corr, [b1, b2, b3, b4, b5, b6], [0, .5, 1, 1.5, 2], [.25, .75, 1.25, 1.75, 2.25],
      ['0.0', '0.5', '1.0', '1.5', '2.0'], (-.11, 2.45), names)
pairs(1321.6, 125, c_dens, c_corr, [c1, c2, c3, c4, c5, c6], [0, .5, 1, 1.5, 2, 2.5], [.25, .75, 1.25, 1.75, 2.25],
      ['0.0', '0.5', '1.0', '1.5', '2.0', '2.5'], (-.11, 2.5), names)
pairs(62, 680, d_dens, d_corr, [d1, d2, d3, d4, d5, d6], [0, 1, 2], [.5, 1.5, 2.5],
      ['0', '1', '2'], (-.138, 2.84), names)
pairs(692, 680, e_dens, e_corr, [e1, e2, e3, e4, e5, e6], [0, .5, 1, 1.5, 2], [.25, .75, 1.25, 1.75],
      ['0.0', '0.5', '1.0', '1.5', '2.0'], (-.104, 2.14), ['Ch-a', 'PAR', 'SST', 'SWS'])

title_kw = dict(fontsize=22.6, fontweight='bold', color='#1F1F1F', va='baseline', ha='left')
fig.text(18 / W, 1 - 40 / H, '(a)East China Sea', **title_kw)
fig.text(648 / W, 1 - 40 / H, '(b)Eastern Coastal Waters', **title_kw)
fig.text(648 / W, 1 - 78 / H, 'of the United States', **title_kw)
fig.text(1278 / W, 1 - 40 / H, '(c)Amazon Estuary in Brazil', **title_kw)
fig.text(18 / W, 1 - 616 / H, '(d)Bohai Sea in China', **title_kw)
fig.text(648 / W, 1 - 616 / H, '(e) Gulf of Mexico', **title_kw)

fig.savefig('out.png', dpi=100, facecolor='white')
